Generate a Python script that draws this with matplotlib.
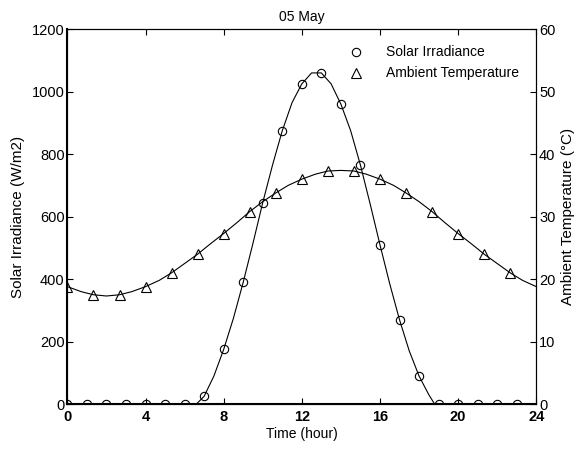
import matplotlib
matplotlib.use("Agg")
import matplotlib.pyplot as plt

plt.rcParams['font.family'] = ['Liberation Sans', 'DejaVu Sans']

# hourly solar irradiance (W/m2)
solar_hours = list(range(0, 24))
solar_vals = [0, 0, 0, 0, 0, 0, 0, 25, 175, 390, 645, 875, 1025, 1060,
              960, 765, 510, 270, 90, 0, 0, 0, 0, 0]
# curve
solar_line_h = [0, 6.6, 7, 7.5, 8, 8.5, 9, 9.5, 10, 10.5, 11, 11.5, 12, 12.5, 13,
                13.5, 14, 14.5, 15, 15.5, 16, 16.5, 17, 17.5, 18, 18.5, 18.8, 24]
solar_line_v = [0, 0, 25, 90, 175, 275, 390, 515, 645, 765, 875, 965, 1025, 1060, 1060,
                1025, 960, 875, 765, 640, 510, 385, 270, 170, 90, 30, 0, 0]

# ambient temperature (deg C)
temp_hours = [0, 1.33, 2.67, 4, 5.33, 6.67, 8, 9.33, 10.67, 12, 13.33, 14.67,
              16, 17.33, 18.67, 20, 21.33, 22.67]
temp_vals = [18.8, 17.5, 17.5, 18.8, 21.0, 24.0, 27.3, 30.8, 33.8, 36.0, 37.3, 37.3,
             36.0, 33.8, 30.8, 27.3, 24.0, 21.0]
temp_line_h = [0, 0.7, 1.33, 2, 2.67, 3.3, 4, 4.7, 5.33, 6, 6.67, 7.3, 8, 8.7, 9.33,
               10, 10.67, 11.3, 12, 12.7, 13.33, 14, 14.67, 15.3, 16, 16.7, 17.33,
               18, 18.67, 19.3, 20, 20.7, 21.33, 22, 22.67, 23.3, 24]
temp_line_v = [18.8, 18.0, 17.5, 17.3, 17.5, 18.0, 18.8, 19.8, 21.0, 22.5, 24.0, 25.6,
               27.3, 29.1, 30.8, 32.4, 33.8, 35.0, 36.0, 36.8, 37.3, 37.4, 37.3, 36.8,
               36.0, 35.0, 33.8, 32.4, 30.8, 29.1, 27.3, 25.6, 24.0, 22.5, 21.0, 19.8, 18.8]

fig = plt.figure(figsize=(5.76, 4.49), dpi=100)
ax = fig.add_axes([0.117, 0.1, 0.814, 0.835])
ax2 = ax.twinx()

ax.plot(solar_line_h, solar_line_v, color='black', lw=0.8)
ax.plot(solar_hours, solar_vals, 'o', mfc='none', mec='black', ms=6, mew=0.8)
ax2.plot(temp_line_h, temp_line_v, color='black', lw=0.8)
ax2.plot(temp_hours, temp_vals, '^', mfc='none', mec='black', ms=7, mew=0.8)

ax.set_xlim(0, 24)
ax.set_ylim(0, 1200)
ax2.set_ylim(0, 60)
ax.set_xticks(range(0, 25, 4))
ax.set_xticklabels([str(v) for v in range(0, 25, 4)], fontweight='bold')
ax.set_yticks(range(0, 1201, 200))
ax2.set_yticks(range(0, 61, 10))

ax.tick_params(axis='both', direction='in', length=4, labelsize=10.5, pad=2)
ax.tick_params(axis='x', top=True, pad=4.5)
ax2.tick_params(axis='y', direction='in', length=4, labelsize=10.5, pad=2)
for s in ['left', 'bottom']:
    ax.spines[s].set_linewidth(1.5)

ax.set_xlabel('Time (hour)', fontsize=10, labelpad=2)
ax.set_ylabel('Solar Irradiance (W/m2)', fontsize=11, labelpad=5)
ax2.set_ylabel('Ambient Temperature (°C)', fontsize=11, labelpad=4)
ax.set_title('05 May', fontsize=10, pad=6)

h1 = plt.Line2D([], [], ls='none', marker='o', mfc='none', mec='black', ms=6, mew=0.8)
h2 = plt.Line2D([], [], ls='none', marker='^', mfc='none', mec='black', ms=7, mew=0.8)
ax2.legend([h1, h2], ['Solar Irradiance', 'Ambient Temperature'], loc='upper right',
           frameon=False, fontsize=10, handletextpad=1.2, bbox_to_anchor=(0.99, 0.99))

fig.savefig('out.png', dpi=100)
